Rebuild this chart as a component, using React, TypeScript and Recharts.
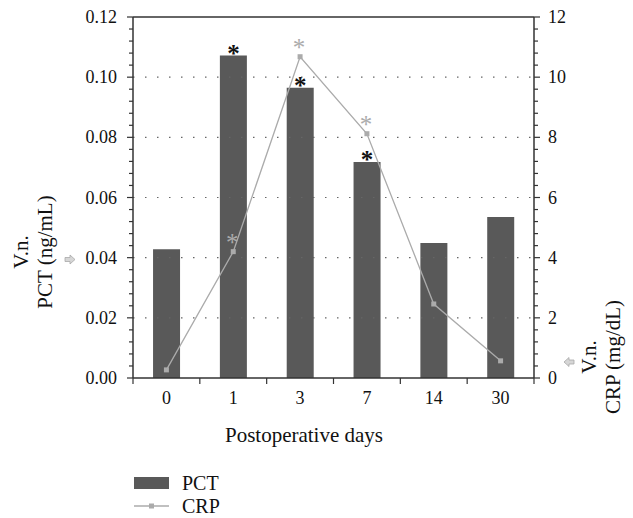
import React from 'react';
import { Bar, ComposedChart, LabelList, Line, ReferenceLine, XAxis, YAxis } from 'recharts';

const days = ['0', '1', '3', '7', '14', '30'];
const pctValues = [0.0428, 0.1072, 0.0965, 0.0718, 0.0449, 0.0535];
const crpValues = [0.27, 4.2, 10.68, 8.12, 2.46, 0.57];
const pctSignificant = [false, true, true, true, false, false];
const crpSignificant = [false, true, true, true, false, false];
const pctTicks = [0, 0.02, 0.04, 0.06, 0.08, 0.1, 0.12];
const crpTicks = [0, 2, 4, 6, 8, 10, 12];
const gridValues = [0.02, 0.04, 0.06, 0.08, 0.1];

const W = 633;
const H = 518;
const margin = { top: 17, right: 49, left: 73, bottom: 100 };
const leftAxisWidth = 60;
const rightAxisWidth = 50;
const xAxisHeight = 40;
const plotWidth = W - margin.left - margin.right - leftAxisWidth - rightAxisWidth;
const halfBand = plotWidth / days.length / 2;

const FONT = '"Liberation Serif", "DejaVu Serif", serif';
const BAR = '#595959';
const LINE = '#ababab';
const AXIS = '#333';

// 5 minor steps per labelled interval
const withMinor = (major: number[]) => {
  const out: number[] = [];
  for (let i = 0; i < major.length - 1; i++) {
    const step = (major[i + 1] - major[i]) / 5;
    for (let k = 0; k < 5; k++) out.push(+(major[i] + k * step).toFixed(6));
  }
  out.push(major[major.length - 1]);
  return out;
};

const isMajor = (v: number, major: number[]) => major.some(m => Math.abs(m - v) < 1e-9);

const data = days.map((d, i) => ({
  day: d,
  pct: pctValues[i],
  crp: crpValues[i],
}));

const LeftTick = (props: any) => {
  const { x, y, payload } = props;
  const major = isMajor(payload.value, pctTicks);
  return (
    <g>
      <line x1={x} x2={x - (major ? 6 : 4)} y1={y} y2={y} stroke={AXIS} strokeWidth={1.2} />
      {major && (
        <text x={x - 16} y={y} textAnchor="end" dominantBaseline="central" fontSize={18} fontFamily={FONT} fill="#111">
          {payload.value.toFixed(2)}
        </text>
      )}
    </g>
  );
};

const RightTick = (props: any) => {
  const { x, y, payload } = props;
  const major = isMajor(payload.value, crpTicks);
  return (
    <g>
      <line x1={x} x2={x + (major ? 6 : 4)} y1={y} y2={y} stroke={AXIS} strokeWidth={1.2} />
      {major && (
        <text x={x + 14} y={y} textAnchor="start" dominantBaseline="central" fontSize={18} fontFamily={FONT} fill="#111">
          {payload.value}
        </text>
      )}
    </g>
  );
};

const BottomTick = (props: any) => {
  const { x, y, payload, index } = props;
  return (
    <g>
      <line x1={x - halfBand} x2={x - halfBand} y1={y} y2={y + 6} stroke={AXIS} strokeWidth={1.2} />
      {index === days.length - 1 && (
        <line x1={x + halfBand} x2={x + halfBand} y1={y} y2={y + 6} stroke={AXIS} strokeWidth={1.2} />
      )}
      <text x={x} y={y + 20} textAnchor="middle" dominantBaseline="central" fontSize={18} fontFamily={FONT} fill="#111">
        {payload.value}
      </text>
    </g>
  );
};

const barStar = (props: any) => {
  const { x, y, width, index } = props;
  if (!pctSignificant[index]) return null;
  return (
    <text x={x + width / 2} y={y + 6} textAnchor="middle" fontSize={25} fontWeight="bold" fontFamily={FONT} fill="#111">
      *
    </text>
  );
};

const lineStar = (props: any) => {
  const { x, y, index } = props;
  if (!crpSignificant[index]) return null;
  return (
    <text x={x - 1} y={y - 1} textAnchor="middle" fontSize={25} fontFamily={FONT} fill={LINE}>
      *
    </text>
  );
};

const SquareDot = (props: any) => {
  const { cx, cy } = props;
  return <rect x={cx - 2.5} y={cy - 2.5} width={5} height={5} fill={LINE} />;
};

export default function App() {
  return (
    <div style={{ position: 'absolute', left: 0, top: 0, width: W, height: H, background: '#fff' }}>
      <ComposedChart width={W} height={H} data={data} margin={margin} barCategoryGap="30%">
        {gridValues.map(v => (
          <ReferenceLine key={v} yAxisId="pct" y={v} stroke="#666" strokeDasharray="1.5 10.5" strokeWidth={1.2} />
        ))}
        <ReferenceLine yAxisId="pct" y={0.12} stroke={AXIS} strokeWidth={1.5} />
        <XAxis
          dataKey="day"
          height={xAxisHeight}
          axisLine={{ stroke: AXIS, strokeWidth: 1.5 }}
          tickLine={false}
          tickSize={0}
          tickMargin={0}
          interval={0}
          tick={<BottomTick />}
        />
        <YAxis
          yAxisId="pct"
          orientation="left"
          width={leftAxisWidth}
          domain={[0, 0.12]}
          ticks={withMinor(pctTicks)}
          interval={0}
          axisLine={{ stroke: AXIS, strokeWidth: 1.5 }}
          tickLine={false}
          tickSize={0}
          tickMargin={0}
          tick={<LeftTick />}
        />
        <YAxis
          yAxisId="crp"
          orientation="right"
          width={rightAxisWidth}
          domain={[0, 12]}
          ticks={withMinor(crpTicks)}
          interval={0}
          axisLine={{ stroke: AXIS, strokeWidth: 1.5 }}
          tickLine={false}
          tickSize={0}
          tickMargin={0}
          tick={<RightTick />}
        />
        <Bar yAxisId="pct" dataKey="pct" fill={BAR} isAnimationActive={false}>
          <LabelList dataKey="pct" content={barStar} />
        </Bar>
        <Line
          yAxisId="crp"
          dataKey="crp"
          stroke={LINE}
          strokeWidth={1.3}
          dot={<SquareDot />}
          activeDot={false}
          isAnimationActive={false}
        >
          <LabelList dataKey="crp" content={lineStar} />
        </Line>
      </ComposedChart>

      <svg width={W} height={H} style={{ position: 'absolute', left: 0, top: 0, pointerEvents: 'none' }}>
        <g fontFamily={FONT} fontSize={21} fill="#111">
          <text x={21} y={252} transform="rotate(-90 21 252)" textAnchor="middle" dominantBaseline="central">
            V.n.
          </text>
          <text x={45} y={252} transform="rotate(-90 45 252)" textAnchor="middle" dominantBaseline="central">
            PCT (ng/mL)
          </text>
          <text x={589} y={357} transform="rotate(-90 589 357)" textAnchor="middle" dominantBaseline="central">
            V.n.
          </text>
          <text x={613} y={357} transform="rotate(-90 613 357)" textAnchor="middle" dominantBaseline="central">
            CRP (mg/dL)
          </text>
          <text x={304} y={435} textAnchor="middle" dominantBaseline="central">
            Postoperative days
          </text>
        </g>
        <polygon
          points="65,257.5 70,257.5 70,255 75,259.5 70,264 70,261.5 65,261.5"
          fill="#d6d6d6"
          stroke="#a8a8a8"
          strokeWidth={0.8}
        />
        <polygon
          points="574,360 569,360 569,357.5 564,362 569,366.5 569,364 574,364"
          fill="#d6d6d6"
          stroke="#a8a8a8"
          strokeWidth={0.8}
        />
        <g fontFamily={FONT} fontSize={20} fill="#111">
          <rect x={134} y={477} width={35} height={12} fill={BAR} />
          <text x={182} y={483} dominantBaseline="central">PCT</text>
          <line x1={134} x2={169} y1={506} y2={506} stroke={LINE} strokeWidth={1.3} />
          <rect x={149} y={503.5} width={5} height={5} fill={LINE} />
          <text x={182} y={506} dominantBaseline="central">CRP</text>
        </g>
      </svg>
    </div>
  );
}
